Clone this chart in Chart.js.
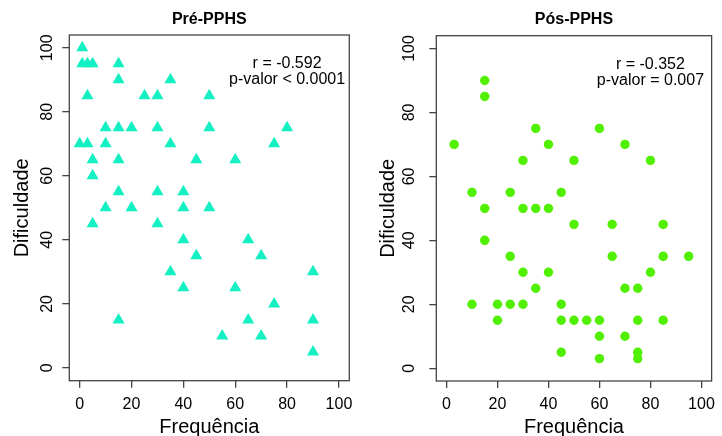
<!DOCTYPE html>
<html>
<head>
<meta charset="utf-8">
<script src="https://cdn.jsdelivr.net/npm/chart.js@4.4.1/dist/chart.umd.min.js"></script>
<style>
  html, body { margin: 0; padding: 0; background: #fff; }
  #wrap { position: relative; width: 722px; height: 436px; }
  .panel { position: absolute; top: 0; width: 361px; height: 436px; }
</style>
</head>
<body>
<div id="wrap">
  <div class="panel" style="left:0"><canvas id="preChart" width="361" height="436"></canvas></div>
  <div class="panel" style="left:361px"><canvas id="posChart" width="361" height="436"></canvas></div>
</div>
<script>
// Pré-PPHS: frequência x dificuldade
const preFreq = [1, 1, 3, 5, 15, 15, 35, 3, 25, 30, 50, 10, 15, 20, 30, 50, 80,
  0, 3, 10, 35, 75, 5, 15, 45, 60, 5, 15, 30, 40, 10, 20, 40, 50, 5, 30,
  40, 65, 45, 70, 35, 90, 40, 60, 75, 15, 65, 90, 55, 70, 90];
const preDif = [100, 95, 95, 95, 95, 90, 90, 85, 85, 85, 85, 75, 75, 75, 75, 75, 75,
  70, 70, 70, 70, 70, 65, 65, 65, 65, 60, 55, 55, 55, 50, 50, 50, 50, 45, 45,
  40, 40, 35, 35, 30, 30, 25, 25, 20, 15, 15, 15, 10, 10, 5];

// Pós-PPHS
const posFreq = [15, 15, 35, 60, 3, 40, 70, 30, 50, 80, 10, 25, 45, 15, 30, 35, 40,
  50, 65, 85, 15, 25, 65, 85, 95, 30, 40, 80, 35, 70, 75, 10, 20, 25, 30, 45,
  20, 45, 50, 55, 60, 75, 85, 60, 70, 45, 75, 60, 75];
const posDif = [90, 85, 75, 75, 70, 70, 70, 65, 65, 65, 55, 55, 55, 50, 50, 50, 50,
  45, 45, 45, 40, 35, 35, 35, 35, 30, 30, 30, 25, 25, 25, 20, 20, 20, 20, 20,
  15, 15, 15, 15, 15, 15, 15, 10, 10, 5, 5, 3, 3];

const tickValues = [0, 20, 40, 60, 80, 100];
const preNote = ["r = -0.592", "p-valor < 0.0001"];
const posNote = ["r = -0.352", "p-valor = 0.007"];
const noteX = 80;
const noteY = [95, 90];

const FONT = "'Liberation Sans', Arial, sans-serif";

// caixa, rótulos do eixo y girados, título e anotação (estilo R)
const rStyle = {
  id: "rStyle",
  afterDraw(chart, args, opts) {
    const { ctx, chartArea: a, scales: { x, y } } = chart;
    ctx.save();
    ctx.strokeStyle = "#444";
    ctx.lineWidth = 1.3;
    ctx.strokeRect(a.left, a.top, a.right - a.left, a.bottom - a.top);

    ctx.fillStyle = "#000";
    ctx.textAlign = "center";
    ctx.textBaseline = "middle";
    ctx.font = "16px " + FONT;
    y.ticks.forEach(t => {
      ctx.save();
      ctx.translate(opts.yLabelX, y.getPixelForValue(t.value));
      ctx.rotate(-Math.PI / 2);
      ctx.fillText(String(t.value), 0, 0);
      ctx.restore();
    });

    opts.note.forEach((s, i) => {
      ctx.fillText(s, x.getPixelForValue(noteX), y.getPixelForValue(noteY[i]));
    });

    ctx.font = "bold 16px " + FONT;
    ctx.fillText(opts.title, (a.left + a.right) / 2, opts.titleY);
    ctx.restore();
  }
};

function makeChart(id, title, xs, ys, note, look) {
  const ctx = document.getElementById(id).getContext("2d");
  return new Chart(ctx, {
    type: "scatter",
    data: {
      datasets: [{
        data: xs.map((v, i) => ({ x: v, y: ys[i] })),
        pointStyle: look.pointStyle,
        pointRadius: look.radius,
        pointHoverRadius: look.radius,
        pointBackgroundColor: look.color,
        pointBorderWidth: 0
      }]
    },
    options: {
      responsive: false,
      animation: false,
      layout: { padding: { left: 0, top: look.top, right: look.right, bottom: 0 } },
      plugins: {
        legend: { display: false },
        tooltip: { enabled: false },
        rStyle: { title: title, note: note, yLabelX: look.yLabelX, titleY: 20 }
      },
      scales: {
        x: {
          type: "linear",
          min: -4,
          max: 104,
          afterBuildTicks: s => { s.ticks = tickValues.map(v => ({ value: v })); },
          afterFit: s => { s.height = 436 - look.bottom; },
          grid: { drawOnChartArea: false, drawTicks: true, tickLength: 7, color: "#444", lineWidth: 1.3 },
          border: { display: false },
          ticks: { autoSkip: false, maxRotation: 0, padding: 7, color: "#000", font: { family: FONT, size: 16 } },
          title: { display: true, text: "Frequência", color: "#000", padding: 0,
                   font: { family: FONT, size: 20, lineHeight: 0.9 } }
        },
        y: {
          type: "linear",
          min: -4,
          max: 104,
          afterBuildTicks: s => { s.ticks = tickValues.map(v => ({ value: v })); },
          afterFit: s => { s.width = look.left; },
          grid: { drawOnChartArea: false, drawTicks: true, tickLength: 7, color: "#444", lineWidth: 1.3 },
          border: { display: false },
          ticks: { display: false },
          title: { display: true, text: "Dificuldade", color: "#000",
                   padding: { top: look.yTitlePad, bottom: 0 },
                   font: { family: FONT, size: 20, lineHeight: 1.2 } }
        }
      }
    },
    plugins: [rStyle]
  });
}

makeChart("preChart", "Pré-PPHS", preFreq, preDif, preNote,
  { pointStyle: "triangle", radius: 7, color: "#14F0C3",
    left: 69.3, right: 11.7, top: 35, bottom: 380.7, yLabelX: 47.5, yTitlePad: 10 });

makeChart("posChart", "Pós-PPHS", posFreq, posDif, posNote,
  { pointStyle: "circle", radius: 4.7, color: "#50F000",
    left: 75.3, right: 6, top: 35.7, bottom: 381, yLabelX: 48.5, yTitlePad: 15 });
</script>
</body>
</html>
